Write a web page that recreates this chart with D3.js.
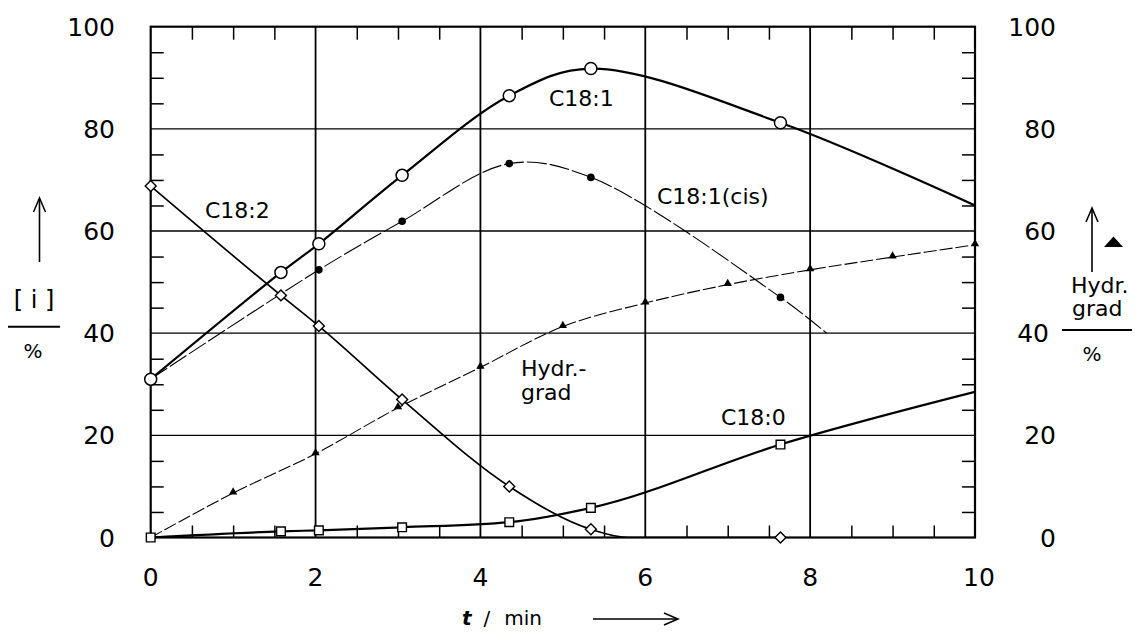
<!DOCTYPE html>
<html>
<head>
<meta charset="utf-8">
<script src="https://cdn.jsdelivr.net/npm/d3@7"></script>
<style>
  html, body { margin: 0; padding: 0; background: #fff; }
  svg { display: block; }
  text { font-family: "DejaVu Sans", sans-serif; fill: #000; }
</style>
</head>
<body>
<svg id="chart" width="1135" height="632"></svg>
<script>
// ---- data ----
const xTicks = [0, 2, 4, 6, 8, 10];
const yTicks = [0, 20, 40, 60, 80, 100];

// C18:1 (open circles), last entry is curve end without marker
const c181T = [0, 1.58, 2.04, 3.05, 4.35, 5.34, 7.64, 10];
const c181V = [31.0, 51.9, 57.5, 70.9, 86.5, 91.8, 81.2, 65.0];
const c181Mark = [1, 1, 1, 1, 1, 1, 1, 0];

// C18:1(cis) (filled dots), last entry is curve end
const cisT = [0, 2.04, 3.05, 4.35, 5.34, 7.64, 8.2];
const cisV = [31.0, 52.4, 61.9, 73.2, 70.5, 47.0, 40.0];
const cisMark = [0, 1, 1, 1, 1, 1, 0];

// C18:2 (diamonds)
const c182T = [0, 1.58, 2.04, 3.05, 4.35, 5.34, 5.8, 7.64];
const c182V = [68.8, 47.4, 41.4, 27.0, 10.0, 1.6, 0, 0];
const c182Mark = [1, 1, 1, 1, 1, 1, 0, 1];

// C18:0 (squares)
const c180T = [0, 1.58, 2.04, 3.05, 4.35, 5.34, 7.64, 10];
const c180V = [0, 1.2, 1.4, 2.0, 3.0, 5.8, 18.2, 28.5];
const c180Mark = [1, 1, 1, 1, 1, 1, 1, 0];

// Hydr.-grad (triangles, right axis)
const hydT = [0, 1, 2, 3, 4, 5, 6, 7, 8, 9, 10];
const hydV = [0, 8.7, 16.4, 25.4, 33.3, 41.3, 45.9, 49.5, 52.4, 54.9, 57.3];

// ---- drawing ----
const svg = d3.select("#chart");
const X0 = 150.7, X1 = 975, Y0 = 537.5, Y1 = 26.7;
const x = d3.scaleLinear().domain([0, 10]).range([X0, X1]);
const y = d3.scaleLinear().domain([0, 100]).range([Y0, Y1]);
const yR = d3.scaleLinear().domain([0, 100]).range([Y0, Y1]);

const zip = (T, V, M) => T.map((t, i) => ({ t, v: V[i], m: M ? M[i] : 1 }));

svg.append("defs").append("clipPath").attr("id", "clip")
  .append("rect").attr("x", X0).attr("y", Y1).attr("width", X1 - X0).attr("height", Y0 - Y1);

// grid
const grid = svg.append("g");
grid.selectAll("line.v").data([2, 4, 6, 8]).join("line")
  .attr("x1", d => x(d)).attr("x2", d => x(d)).attr("y1", Y1).attr("y2", Y0)
  .attr("stroke", "#000").attr("stroke-width", 1.8);
grid.selectAll("line.h").data([20, 40, 60, 80]).join("line")
  .attr("x1", X0).attr("x2", X1).attr("y1", d => y(d)).attr("y2", d => y(d))
  .attr("stroke", "#000").attr("stroke-width", 1.3);

// minor ticks via axes
const topAxis = d3.axisBottom(x).tickValues(d3.range(0.5, 10, 0.5).filter(v => v % 2 !== 0)).tickSize(13).tickFormat("");
svg.append("g").attr("transform", `translate(0,${Y1})`).call(topAxis)
  .call(g => g.select(".domain").remove()).selectAll("line").attr("stroke-width", 1.5);
const botAxis = d3.axisTop(x).tickValues(d3.range(0.5, 10, 0.5).filter(v => v % 2 !== 0)).tickSize(12).tickFormat("");
svg.append("g").attr("transform", `translate(0,${Y0})`).call(botAxis)
  .call(g => g.select(".domain").remove()).selectAll("line").attr("stroke-width", 1.5);
const minorY = d3.range(5, 100, 5).filter(v => v % 20 !== 0);
const leftAxis = d3.axisRight(y).tickValues(minorY).tickSize(13).tickFormat("");
svg.append("g").attr("transform", `translate(${X0},0)`).call(leftAxis)
  .call(g => g.select(".domain").remove()).selectAll("line").attr("stroke-width", 1.5);
const rightAxis = d3.axisLeft(yR).tickValues(minorY).tickSize(13).tickFormat("");
svg.append("g").attr("transform", `translate(${X1},0)`).call(rightAxis)
  .call(g => g.select(".domain").remove()).selectAll("line").attr("stroke-width", 1.5);

// lines
const plot = svg.append("g").attr("clip-path", "url(#clip)");
const lineCR = d3.line().x(d => x(d.t)).y(d => y(d.v)).curve(d3.curveCatmullRom.alpha(0.5));
const lineMono = d3.line().x(d => x(d.t)).y(d => y(d.v)).curve(d3.curveMonotoneX);

const s181 = zip(c181T, c181V, c181Mark);
const sCis = zip(cisT, cisV, cisMark);
const s182 = zip(c182T, c182V, c182Mark);
const s180 = zip(c180T, c180V, c180Mark);
const sHyd = zip(hydT, hydV);

plot.append("path").datum(sHyd).attr("d", d3.line().x(d => x(d.t)).y(d => yR(d.v)).curve(d3.curveCatmullRom.alpha(0.5)))
  .attr("fill", "none").attr("stroke", "#000").attr("stroke-width", 1.1).attr("stroke-dasharray", "13,3");
plot.append("path").datum(sCis).attr("d", lineCR)
  .attr("fill", "none").attr("stroke", "#000").attr("stroke-width", 1.1).attr("stroke-dasharray", "20,3");
plot.append("path").datum(s182).attr("d", lineMono)
  .attr("fill", "none").attr("stroke", "#000").attr("stroke-width", 1.7);
plot.append("path").datum(s180).attr("d", lineMono)
  .attr("fill", "none").attr("stroke", "#000").attr("stroke-width", 2.2);
plot.append("path").datum(s181).attr("d", lineCR)
  .attr("fill", "none").attr("stroke", "#000").attr("stroke-width", 2.2);

// frame
svg.append("rect").attr("x", X0).attr("y", Y1).attr("width", X1 - X0).attr("height", Y0 - Y1)
  .attr("fill", "none").attr("stroke", "#000").attr("stroke-width", 2.2);

// markers
const mk = svg.append("g");
mk.selectAll("path.tri").data(sHyd).join("path")
  .attr("transform", d => `translate(${x(d.t)},${yR(d.v) - 1})`)
  .attr("d", d3.symbol().type(d3.symbolTriangle).size(30)).attr("fill", "#000");
mk.selectAll("circle.dot").data(sCis.filter(d => d.m)).join("circle")
  .attr("cx", d => x(d.t)).attr("cy", d => y(d.v)).attr("r", 3.8).attr("fill", "#000");
mk.selectAll("path.dia").data(s182.filter(d => d.m)).join("path")
  .attr("transform", d => `translate(${x(d.t)},${y(d.v)}) rotate(45)`)
  .attr("d", d3.symbol().type(d3.symbolSquare).size(60))
  .attr("fill", "#fff").attr("stroke", "#000").attr("stroke-width", 1.4);
mk.selectAll("path.sq").data(s180.filter(d => d.m)).join("path")
  .attr("transform", d => `translate(${x(d.t)},${y(d.v)})`)
  .attr("d", d3.symbol().type(d3.symbolSquare).size(75))
  .attr("fill", "#fff").attr("stroke", "#000").attr("stroke-width", 1.4);
mk.selectAll("circle.oc").data(s181.filter(d => d.m)).join("circle")
  .attr("cx", d => x(d.t)).attr("cy", d => y(d.v)).attr("r", 6)
  .attr("fill", "#fff").attr("stroke", "#000").attr("stroke-width", 1.5);

// tick labels
const lab = svg.append("g").style("font-size", "25px");
lab.selectAll("text.xl").data(xTicks).join("text")
  .attr("x", d => x(d) + (d === 10 ? 4 : 0)).attr("y", 586).attr("text-anchor", "middle").text(d => d);
lab.selectAll("text.yl").data(yTicks).join("text")
  .attr("x", 115).attr("y", d => y(d)).attr("dy", "0.36em").attr("text-anchor", "end").text(d => d);
lab.selectAll("text.yr").data(yTicks).join("text")
  .attr("x", d => d === 40 ? 1049 : 1056).attr("y", d => yR(d)).attr("dy", "0.36em").attr("text-anchor", "end").text(d => d);

// series labels
const sl = svg.append("g").style("font-size", "22px");
sl.append("text").attr("x", 205).attr("y", 218).text("C18:2");
sl.append("text").attr("x", 549).attr("y", 106).text("C18:1");
sl.append("text").attr("x", 657).attr("y", 204).text("C18:1(cis)");
sl.append("text").attr("x", 521).attr("y", 376).text("Hydr.-");
sl.append("text").attr("x", 521).attr("y", 400).text("grad");
sl.append("text").attr("x", 721).attr("y", 425).text("C18:0");

// axis titles
const arrowHead = (g, x0, y0, dir) => {
  if (dir === "up") {
    g.append("path").attr("d", `M${x0 - 6},${y0 + 14} L${x0},${y0} L${x0 + 6},${y0 + 14}`)
      .attr("fill", "none").attr("stroke", "#000").attr("stroke-width", 1.5);
  } else {
    g.append("path").attr("d", `M${x0 - 14},${y0 - 6} L${x0},${y0} L${x0 - 14},${y0 + 6}`)
      .attr("fill", "none").attr("stroke", "#000").attr("stroke-width", 1.5);
  }
};
const at = svg.append("g");
// left
at.append("line").attr("x1", 39.5).attr("x2", 39.5).attr("y1", 262).attr("y2", 199).attr("stroke", "#000").attr("stroke-width", 1.6);
arrowHead(at, 39.5, 198, "up");
at.append("text").attr("x", 34).attr("y", 308).attr("text-anchor", "middle").style("font-size", "24px").text("[ i ]");
at.append("line").attr("x1", 8).attr("x2", 60).attr("y1", 326.7).attr("y2", 326.7).attr("stroke", "#000").attr("stroke-width", 2);
at.append("text").attr("x", 33).attr("y", 358).attr("text-anchor", "middle").style("font-size", "20px").text("%");
// right
at.append("line").attr("x1", 1092).attr("x2", 1092).attr("y1", 272).attr("y2", 209).attr("stroke", "#000").attr("stroke-width", 1.6);
arrowHead(at, 1092, 208, "up");
at.append("path").attr("d", "M1104,247 L1113.5,236.5 L1123,247 Z").attr("fill", "#000");
at.append("text").attr("x", 1071).attr("y", 293).style("font-size", "22px").text("Hydr.");
at.append("text").attr("x", 1072).attr("y", 316).style("font-size", "22px").text("grad");
at.append("line").attr("x1", 1062).attr("x2", 1132).attr("y1", 330).attr("y2", 330).attr("stroke", "#000").attr("stroke-width", 2);
at.append("text").attr("x", 1092).attr("y", 361).attr("text-anchor", "middle").style("font-size", "20px").text("%");
// bottom
const bt = at.append("text").attr("x", 462).attr("y", 625).style("font-size", "20px");
bt.append("tspan").style("font-style", "italic").style("font-weight", "bold").text("t");
bt.append("tspan").attr("dx", 12).text("/");
bt.append("tspan").attr("dx", 14).text("min");
at.append("line").attr("x1", 593).attr("x2", 677).attr("y1", 619).attr("y2", 619).attr("stroke", "#000").attr("stroke-width", 1.5);
arrowHead(at, 678, 619, "right");
</script>
</body>
</html>
